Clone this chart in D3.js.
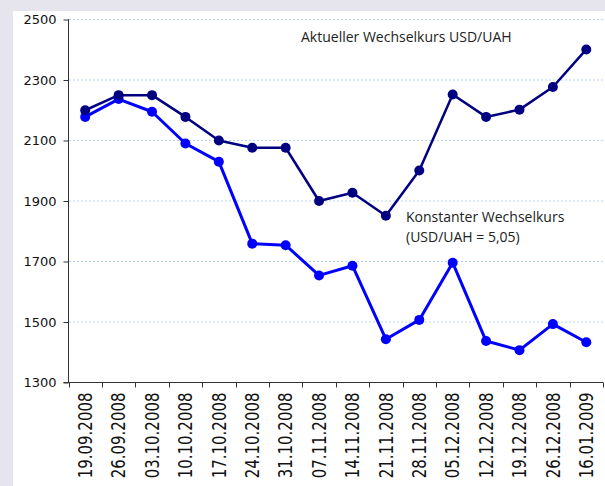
<!DOCTYPE html>
<html>
<head>
<meta charset="utf-8">
<script src="https://cdn.jsdelivr.net/npm/d3@7"></script>
<style>
  html, body { margin: 0; padding: 0; background: #e6e4ed; }
  #wrapper { width: 605px; height: 486px; overflow: hidden; }
  .tick-y { font-family: "DejaVu Sans", Verdana, sans-serif; font-size: 13px; fill: #111; }
  .tick-x { font-family: "DejaVu Sans", Verdana, sans-serif; font-size: 15px; fill: #111; }
  .note { font-family: "Open Sans", sans-serif; font-size: 14px; fill: #222; }
</style>
</head>
<body>
<div id="wrapper"></div>
<script>
// data
const dates = [
  "19.09.2008", "26.09.2008", "03.10.2008", "10.10.2008", "17.10.2008",
  "24.10.2008", "31.10.2008", "07.11.2008", "14.11.2008", "21.11.2008",
  "28.11.2008", "05.12.2008", "12.12.2008", "19.12.2008", "26.12.2008",
  "16.01.2009",
];
const aktuell = [2200, 2250, 2250, 2178, 2100, 2076, 2076, 1900, 1927, 1851,
  2001, 2252, 2178, 2202, 2277, 2401];
const konstant = [2178, 2237, 2195, 2090, 2030, 1759, 1754, 1654, 1686, 1443,
  1507, 1696, 1437, 1407, 1493, 1433];
const yTicks = [1300, 1500, 1700, 1900, 2100, 2300, 2500];
const labelAktuell = "Aktueller Wechselkurs USD/UAH";
const labelKonstant = ["Konstanter Wechselkurs", "(USD/UAH = 5,05)"];

function drawChart() {
  const width = 605;
  const height = 486;

  const chart = d3.select("#wrapper")
    .append("svg")
    .attr("width", width)
    .attr("height", height);

  // white panel over the grey frame
  chart.append("rect")
    .attr("x", 13)
    .attr("y", 11)
    .attr("width", width - 13)
    .attr("height", height - 11)
    .attr("fill", "#ffffff");

  // scales
  const xScale = d3.scaleBand()
    .domain(dates)
    .range([68.5, 603])
    .padding(0);
  const xCenter = (d) => xScale(d) + xScale.bandwidth() / 2;

  const yScale = d3.scaleLinear()
    .domain([1300, 2500])
    .range([382.5, 19.5]);

  // grid lines
  chart.selectAll(".grid")
    .data(yTicks.filter((d) => d > 1300))
    .enter()
    .append("line")
    .attr("class", "grid")
    .attr("x1", 69)
    .attr("x2", 603)
    .attr("y1", (d) => yScale(d))
    .attr("y2", (d) => yScale(d))
    .attr("stroke", "#b8d6f6")
    .attr("stroke-width", 1)
    .attr("stroke-dasharray", "2,2");

  // y axis
  const yAxis = chart.append("g")
    .attr("transform", "translate(68.5,0)")
    .call(d3.axisLeft(yScale).tickValues(yTicks).tickSize(5).tickPadding(7).tickFormat(d3.format("d")));
  yAxis.select(".domain").attr("stroke", "#333").attr("d", `M0.5,${yScale(2500)}H0V${yScale(1300)}`);
  yAxis.selectAll(".tick line").attr("stroke", "#333");
  yAxis.selectAll(".tick text")
    .attr("class", "tick-y")
    .attr("font-family", null)
    .attr("font-size", null)
    .attr("fill", null);

  // x axis
  const xAxis = chart.append("g")
    .attr("transform", `translate(0,${yScale(1300)})`);
  xAxis.append("line")
    .attr("x1", 63.5)
    .attr("x2", 603)
    .attr("stroke", "#333");
  xAxis.selectAll(".xtick")
    .data(dates.map((d) => xScale(d)).concat([603]))
    .enter()
    .append("line")
    .attr("class", "xtick")
    .attr("x1", (d) => Math.round(d) + 0.5)
    .attr("x2", (d) => Math.round(d) + 0.5)
    .attr("y1", 0)
    .attr("y2", 5)
    .attr("stroke", "#333");
  xAxis.selectAll(".tick-x")
    .data(dates)
    .enter()
    .append("text")
    .attr("class", "tick-x")
    .attr("text-anchor", "end")
    .attr("dy", "0.36em")
    .attr("transform", (d) => `translate(${xCenter(d)},10) rotate(-90) scale(1,1.25)`)
    .text((d) => d);

  // lines
  const series = [
    { values: konstant, color: "#0000ff", width: 3 },
    { values: aktuell, color: "#000080", width: 2.5 },
  ];
  const lineGenerator = d3.line()
    .x((d, i) => xCenter(dates[i]))
    .y((d) => yScale(d));

  series.forEach((s) => {
    chart.append("path")
      .datum(s.values)
      .attr("fill", "none")
      .attr("stroke", s.color)
      .attr("stroke-width", s.width)
      .attr("stroke-linejoin", "round")
      .attr("d", lineGenerator);

    chart.selectAll(null)
      .data(s.values)
      .enter()
      .append("circle")
      .attr("cx", (d, i) => xCenter(dates[i]))
      .attr("cy", (d) => yScale(d))
      .attr("r", 5)
      .attr("fill", s.color);
  });

  // annotations
  chart.append("text")
    .attr("class", "note")
    .attr("x", 301)
    .attr("y", 42)
    .text(labelAktuell);

  chart.append("text")
    .attr("class", "note")
    .attr("x", 406)
    .attr("y", 222)
    .selectAll("tspan")
    .data(labelKonstant)
    .enter()
    .append("tspan")
    .attr("x", 406)
    .attr("dy", (d, i) => (i === 0 ? 0 : 20))
    .text((d) => d);
}
drawChart();
</script>
</body>
</html>
